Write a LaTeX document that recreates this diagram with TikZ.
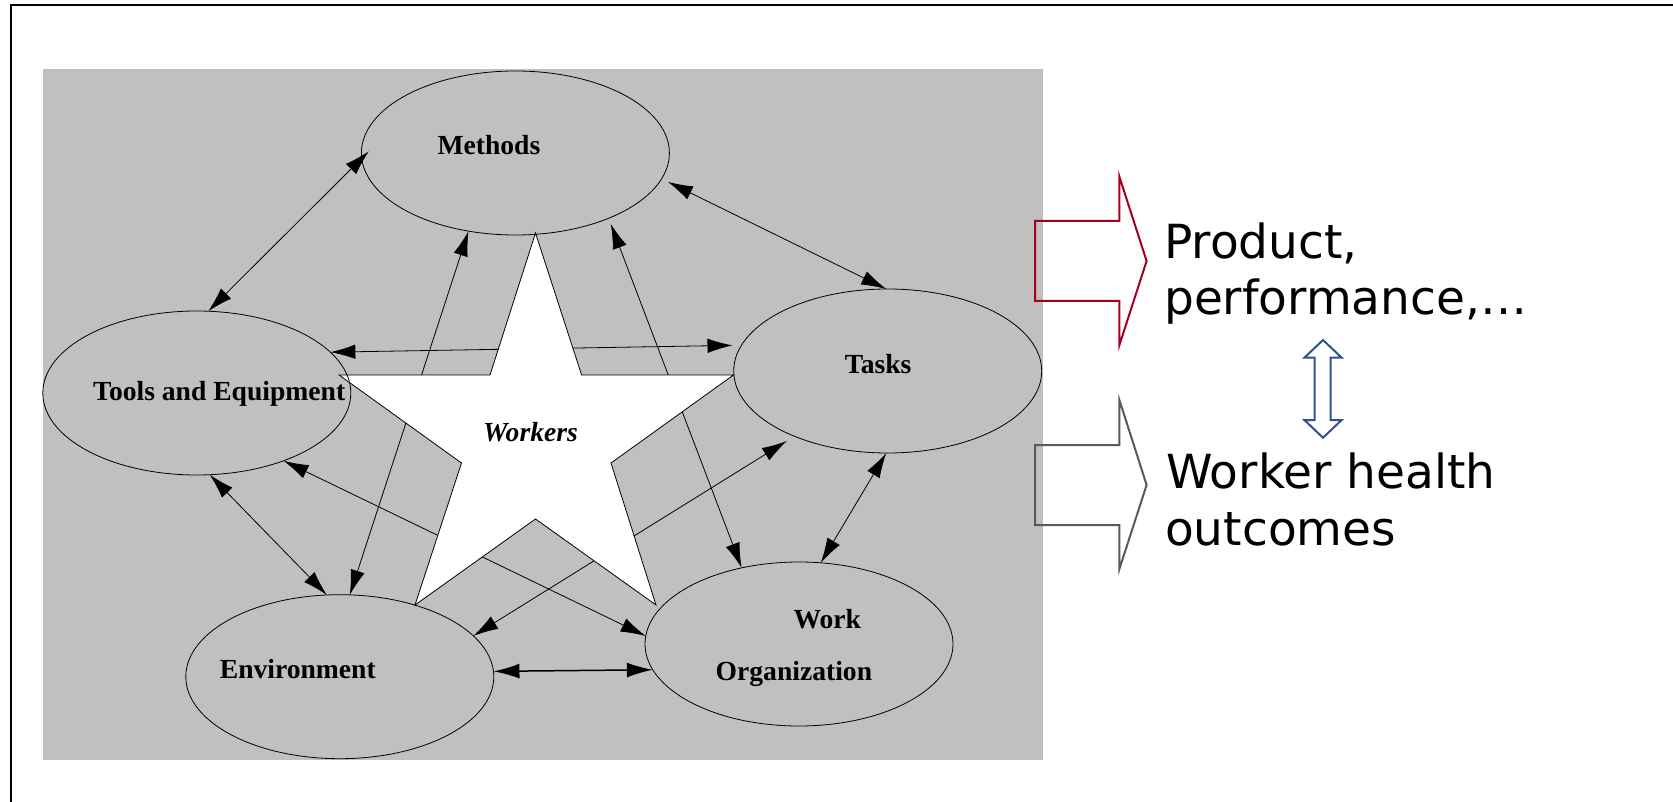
\documentclass[tikz,border=0pt]{standalone}
\usepackage{fontspec}
\setmainfont{Liberation Serif}
\newfontfamily\dejavu{DejaVu Sans}
\usetikzlibrary{arrows.meta,shapes.geometric}
\definecolor{panelgray}{RGB}{192,192,192}
\definecolor{prodred}{RGB}{165,0,33}
\definecolor{healthgray}{RGB}{89,89,89}
\definecolor{linkblue}{RGB}{47,82,143}
\pgfdeclarelayer{bgl}
\pgfdeclarelayer{arrowl}
\pgfdeclarelayer{starl}
\pgfsetlayers{bgl,arrowl,starl,main}
\begin{document}
\begin{tikzpicture}[x=1pt,y=-1pt,
  ellbox/.style={ellipse, draw, line width=0.8pt, minimum width=308pt, minimum height=164pt, inner sep=0pt, outer sep=0pt},
  lbl/.style={font=\fontsize{27.6}{30}\selectfont\bfseries, inner sep=0pt, anchor=base},
  conn/.style={line width=0.8pt, {Latex[length=25pt,width=14.5pt]}-{Latex[length=25pt,width=14.5pt]}},
  thickconn/.style={line width=1.5pt, {Latex[length=26pt,width=15pt]}-{Latex[length=26pt,width=15pt]}},
  rtext/.style={font=\dejavu\fontsize{47}{56}\selectfont, inner sep=0pt, anchor=base west},
  blockarrow/.style={line width=2pt, line join=miter}
]
\useasboundingbox (0,0) rectangle (1673,802);

% slide frame
\draw[line width=1.7pt] (11,802) -- (11,5) -- (1673,5);

% gray panel
\begin{pgfonlayer}{bgl}
\fill[panelgray] (43,69) rectangle (1042.7,760);
\end{pgfonlayer}

% ellipses
\node[ellbox] (methods) at (515.4,153) {};
\node[ellbox] (tools) at (196.8,393) {};
\node[ellbox] (tasks) at (887.7,371) {};
\node[ellbox] (env) at (339.8,676.7) {};
\node[ellbox] (workorg) at (799,644) {};

% connectors
\begin{pgfonlayer}{arrowl}
\draw[conn, shorten <=-10pt] (methods.182) -- (tools.82);
\draw[conn, shorten <=7pt] (methods.350) -- (tasks.91);
\draw[conn, shorten >=9pt] (tools.17) -- (tasks.170);
\draw[conn] (methods.239) -- (env.83);
\draw[conn, shorten <=6pt] (methods.325) -- (workorg.127);
\draw[conn] (tools.279) -- (env.99);
\draw[conn] (tools.322) -- (workorg.177);
\draw[conn, shorten <=9pt] (tasks.215) -- (env.17);
\draw[conn] (tasks.269) -- (workorg.75);
\draw[thickconn] (env.2) -- (workorg.190);
\end{pgfonlayer}

% star
\begin{pgfonlayer}{starl}
\draw[fill=white, line width=0.8pt, line join=miter]
  (535.5,233) -- (581.6,375) -- (733.5,375) -- (611,463) -- (656,605)
  -- (535.5,519) -- (415,605) -- (461.5,463) -- (339,375) -- (490,375) -- cycle;
\end{pgfonlayer}

% labels
\node[lbl] (tmethods) at (488.9,155) {Methods};
\node[lbl] (ttools) at (219.2,400) {Tools and Equipment};
\node[lbl] (ttasks) at (878.2,373.3) {Tasks};
\node[lbl, font=\fontsize{27.6}{30}\selectfont\bfseries\itshape] (tworkers) at (530.5,441.7) {Workers};
\node[lbl] (tenv) at (297.8,678.3) {Environment};
\node[lbl] (twork) at (827.3,628.3) {Work};
\node[lbl] (torg) at (793.9,680) {Organization};

% right side block arrows
\draw[blockarrow, prodred] (1035.2,221) -- (1119.4,221) -- (1119.4,176.7) -- (1146.6,261)
  -- (1119.4,345) -- (1119.4,301) -- (1035.2,301) -- cycle;
\draw[blockarrow, healthgray] (1035.2,445) -- (1119.4,445) -- (1119.4,400) -- (1146.6,485)
  -- (1119.4,569) -- (1119.4,525) -- (1035.2,525) -- cycle;
\draw[blockarrow, linkblue] (1323,340) -- (1341.7,357.7) -- (1330.6,357.7) -- (1330.6,420)
  -- (1341.7,420) -- (1323,437.7) -- (1304.3,420) -- (1314.6,420) -- (1314.6,357.7)
  -- (1304.3,357.7) -- cycle;

% right side texts
\node[rtext] (prod1) at (1164,258.3) {Product,};
\node[rtext] (prod2) at (1164,315) {performance,…};
\node[rtext] (health1) at (1166,488.3) {Worker health};
\node[rtext] (health2) at (1165,545) {outcomes};
\end{tikzpicture}
\end{document}
